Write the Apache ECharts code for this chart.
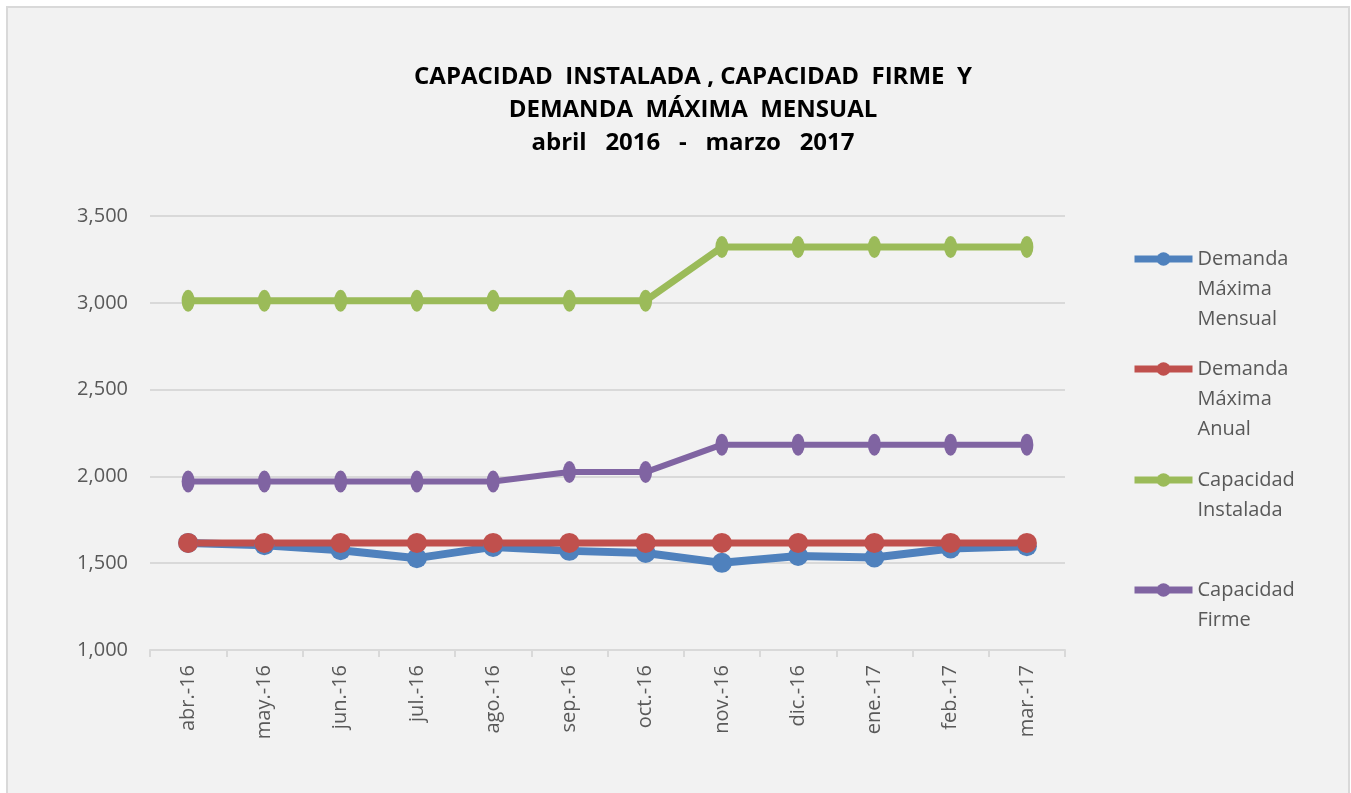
<!DOCTYPE html>
<html>
<head>
<meta charset="utf-8">
<script src="https://cdn.jsdelivr.net/npm/echarts@6/dist/echarts.min.js"></script>
<style>
    html, body { margin: 0; padding: 0; background: #ffffff; }
    #frame {
        position: absolute; left: 6px; top: 6px; width: 1340px; height: 800px;
        border: 2px solid #d9d9d9; background: #f2f2f2;
    }
    #main { position: absolute; left: 0; top: 0; width: 1351px; height: 793px; }
</style>
</head>
<body>
<div id="frame"></div>
<div id="main"></div>
<script>
// 数据
var meses = ['abr.-16', 'may.-16', 'jun.-16', 'jul.-16', 'ago.-16', 'sep.-16',
    'oct.-16', 'nov.-16', 'dic.-16', 'ene.-17', 'feb.-17', 'mar.-17'];
var demandaMensual = [1617, 1604, 1575, 1529, 1594, 1571, 1559, 1502, 1542, 1533, 1585, 1598];
var demandaAnual = [1617, 1617, 1617, 1617, 1617, 1617, 1617, 1617, 1617, 1617, 1617, 1617];
var capInstalada = [3012, 3012, 3012, 3012, 3012, 3012, 3012, 3321, 3321, 3321, 3321, 3321];
var capFirme = [1971, 1971, 1971, 1971, 1971, 2025, 2025, 2183, 2183, 2183, 2183, 2183];
var yTicks = [1000, 1500, 2000, 2500, 3000, 3500];

var nombres = ['Demanda\nMáxima\nMensual', 'Demanda\nMáxima\nAnual', 'Capacidad\nInstalada', 'Capacidad\nFirme'];
var colores = ['#4f81bd', '#c0504d', '#9bbb59', '#8064a2'];
var legendTops = [184, 294, 435, 545];

var fuente = "'Open Sans', 'Noto Sans', sans-serif";

function makeLegend(i) {
    var nLines = nombres[i].split('\n').length;
    var pad = '';
    for (var k = 1; k < nLines; k++) pad += '\n';
    return {
        left: 1131,
        top: legendTops[i],
        padding: 0,
        orient: 'vertical',
        itemWidth: 58,
        itemHeight: 17,
        data: [nombres[i]],
        lineStyle: { width: 7 },
        formatter: function (name) { return pad + name; },
        textStyle: { fontFamily: fuente, fontSize: 20, color: '#595959', lineHeight: 30 }
    };
}

function makeSeries(i, data, size, width) {
    return {
        name: nombres[i],
        type: 'line',
        data: data,
        symbol: 'circle',
        symbolSize: size,
        color: colores[i],
        lineStyle: { width: width, color: colores[i] },
        itemStyle: { color: colores[i] },
        emphasis: { disabled: true }
    };
}

var chart = echarts.init(document.getElementById('main'));
var option = {
    backgroundColor: 'transparent',
    animation: false,
    title: {
        text: 'CAPACIDAD  INSTALADA , CAPACIDAD  FIRME  Y\nDEMANDA  MÁXIMA  MENSUAL\nabril   2016   -   marzo   2017',
        left: 688,
        top: 56,
        textAlign: 'center',
        textStyle: { fontFamily: fuente, fontSize: 24, fontWeight: 'bold', color: '#000000', lineHeight: 33 }
    },
    legend: [makeLegend(0), makeLegend(1), makeLegend(2), makeLegend(3)],
    grid: { left: 150, right: 286, top: 216, bottom: 143, containLabel: false },
    xAxis: {
        type: 'category',
        data: meses,
        boundaryGap: true,
        axisLine: { lineStyle: { color: '#d9d9d9', width: 2 } },
        axisTick: { show: true, interval: 0, length: 7, lineStyle: { color: '#d9d9d9', width: 2 } },
        axisLabel: { rotate: 90, interval: 0, margin: 15, fontFamily: fuente, fontSize: 20, color: '#595959' }
    },
    yAxis: {
        type: 'value',
        min: yTicks[0],
        max: yTicks[yTicks.length - 1],
        interval: 500,
        axisLine: { show: false },
        axisTick: { show: false },
        splitLine: { lineStyle: { color: '#d9d9d9', width: 2 } },
        axisLabel: {
            margin: 22, fontFamily: fuente, fontSize: 20, color: '#595959',
            formatter: function (v) { return v.toLocaleString('en-US'); }
        }
    },
    series: [
        makeSeries(0, demandaMensual, 20, 8),
        makeSeries(1, demandaAnual, 20, 7),
        makeSeries(2, capInstalada, [13, 22], 7),
        makeSeries(3, capFirme, [13, 22], 6)
    ]
};
chart.setOption(option);
</script>
</body>
</html>
